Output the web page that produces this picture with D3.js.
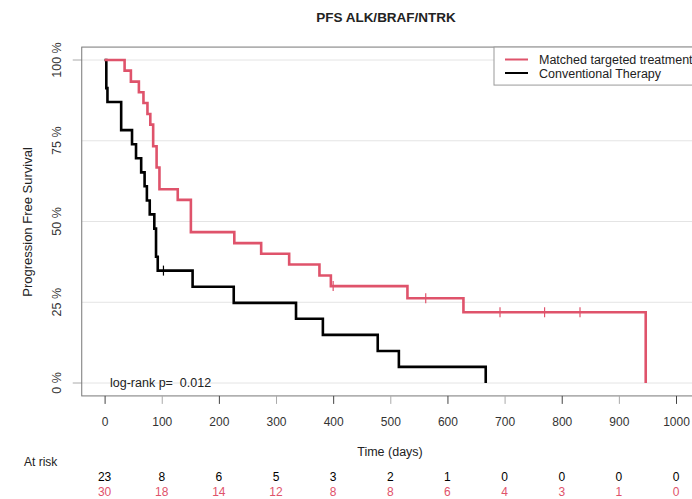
<!DOCTYPE html>
<html>
<head>
<meta charset="utf-8">
<script src="https://cdn.jsdelivr.net/npm/d3@7"></script>
<style>
  html, body { margin: 0; padding: 0; background: #fff; }
  svg { display: block; font-family: "Liberation Sans", Arial, sans-serif; }
</style>
</head>
<body>
<svg id="chart" width="692" height="499"></svg>
<script>
// ---- data ----
const title = "PFS ALK/BRAF/NTRK";
const seriesNames = ["Matched targeted treatment", "Conventional Therapy"];
const seriesColors = ["#DF536B", "#000000"];

// Matched targeted treatment (red): step times (days) and survival
const redTimes = [0, 35, 46, 60, 68, 75, 80, 85, 91, 96, 128, 151, 227, 274, 323, 376, 396, 530, 628, 947];
const redSurv  = [1, 0.967, 0.933, 0.900, 0.867, 0.833, 0.800, 0.733, 0.667, 0.600, 0.567, 0.467, 0.433, 0.400, 0.367, 0.333, 0.300, 0.2625, 0.219, 0];
const redCensorTimes = [400, 562, 692, 770, 832];
const redCensorSurv  = [0.300, 0.2625, 0.219, 0.219, 0.219];

// Conventional Therapy (black)
const blackTimes = [0, 3, 5, 29, 48, 55, 64, 70, 74, 79, 87, 90, 93, 154, 226, 335, 382, 478, 515, 667];
const blackSurv  = [1, 0.913, 0.870, 0.783, 0.739, 0.696, 0.652, 0.609, 0.565, 0.522, 0.478, 0.391, 0.348, 0.298, 0.248, 0.199, 0.149, 0.099, 0.050, 0];
const blackCensorTimes = [103];
const blackCensorSurv  = [0.348];

// axis ticks
const xTicks = [0, 100, 200, 300, 400, 500, 600, 700, 800, 900, 1000];
const yTicks = [0, 0.25, 0.5, 0.75, 1];
const yTickLabels = ["0 %", "25 %", "50 %", "75 %", "100 %"];

// numbers at risk
const riskBlack = [23, 8, 6, 5, 3, 2, 1, 0, 0, 0, 0];
const riskRed   = [30, 18, 14, 12, 8, 8, 6, 4, 3, 1, 0];

const pValueText = "log-rank p=  0.012";

// ---- drawing ----
const svg = d3.select("#chart");
const x = d3.scaleLinear().domain([0, 1000]).range([104.6, 676]);
const y = d3.scaleLinear().domain([0, 1]).range([383, 60]);
const xMin = -40, xMax = 1040, yMin = -0.04, yMax = 1.04;

const textColor = "#222";

// title
svg.append("text")
  .attr("x", 386).attr("y", 22)
  .attr("text-anchor", "middle")
  .attr("font-size", "13.5px").attr("font-weight", "bold")
  .attr("fill", textColor)
  .text(title);

// grid lines
svg.append("g").selectAll("line").data(yTicks).join("line")
  .attr("x1", x(xMin)).attr("x2", x(xMax))
  .attr("y1", d => y(d)).attr("y2", d => y(d))
  .attr("stroke", "#e4e4e4").attr("stroke-width", 1);

// y ticks at 0 and 100 (visible in reference)
svg.append("g").selectAll("line").data([0, 1]).join("line")
  .attr("x1", x(xMin) - 9).attr("x2", x(xMin))
  .attr("y1", d => y(d)).attr("y2", d => y(d))
  .attr("stroke", "#aaa").attr("stroke-width", 1);

// plot box
svg.append("rect")
  .attr("x", x(xMin)).attr("y", y(yMax))
  .attr("width", x(xMax) - x(xMin)).attr("height", y(yMin) - y(yMax))
  .attr("fill", "none").attr("stroke", "#777").attr("stroke-width", 1);

// y tick labels (rotated)
svg.append("g").selectAll("text").data(yTicks).join("text")
  .attr("transform", d => `translate(61, ${y(d)}) rotate(-90)`)
  .attr("text-anchor", "middle")
  .attr("font-size", "12.5px").attr("fill", "#333")
  .text((d, i) => yTickLabels[i]);

// y axis title
svg.append("text")
  .attr("transform", `translate(32, 222) rotate(-90)`)
  .attr("text-anchor", "middle")
  .attr("font-size", "13px").attr("fill", textColor)
  .text("Progression Free Survival");

// x axis
const xAxis = d3.axisBottom(x).tickValues(xTicks).tickSize(8).tickPadding(14).tickFormat(d3.format("d"));
const gx = svg.append("g").attr("transform", `translate(0, ${y(yMin)})`).call(xAxis);
gx.select(".domain").remove();
gx.selectAll(".tick line").attr("stroke", (d, i) => i % 2 === 0 ? "#444" : "#aaa");
gx.selectAll(".tick text").attr("font-size", "12px").attr("fill", "#333")
  .attr("font-family", "Liberation Sans, Arial, sans-serif");

// x axis title
svg.append("text")
  .attr("x", 390).attr("y", 456)
  .attr("text-anchor", "middle")
  .attr("font-size", "12.5px").attr("fill", textColor)
  .text("Time (days)");

// curves
const line = d3.line().x(d => x(d[0])).y(d => y(d[1])).curve(d3.curveStepAfter);
const curves = [
  { t: blackTimes, s: blackSurv, ct: blackCensorTimes, cs: blackCensorSurv, color: seriesColors[1] },
  { t: redTimes, s: redSurv, ct: redCensorTimes, cs: redCensorSurv, color: seriesColors[0] }
];
curves.forEach(c => {
  const pts = c.t.map((t, i) => [t, c.s[i]]);
  svg.append("path")
    .attr("d", line(pts))
    .attr("fill", "none").attr("stroke", c.color)
    .attr("stroke-width", 2.6).attr("stroke-linejoin", "miter");
  svg.append("g").selectAll("line").data(c.ct).join("line")
    .attr("x1", d => x(d)).attr("x2", d => x(d))
    .attr("y1", (d, i) => y(c.cs[i]) - 5).attr("y2", (d, i) => y(c.cs[i]) + 5)
    .attr("stroke", c.color).attr("stroke-width", 1.2);
});

// p-value
svg.append("text")
  .attr("x", 110).attr("y", 387)
  .attr("font-size", "12.5px").attr("fill", textColor)
  .style("white-space", "pre")
  .text(pValueText);

// legend
const lg = svg.append("g");
lg.append("rect")
  .attr("x", 494).attr("y", y(yMax)).attr("width", 240).attr("height", 38)
  .attr("fill", "#fff").attr("stroke", "#999").attr("stroke-width", 1);
seriesNames.forEach((name, i) => {
  const ly = 59.5 + i * 13.5;
  lg.append("line")
    .attr("x1", 505).attr("x2", 528).attr("y1", ly).attr("y2", ly)
    .attr("stroke", seriesColors[i]).attr("stroke-width", 2);
  lg.append("text")
    .attr("x", 539).attr("y", ly + 4.5)
    .attr("font-size", "12.5px").attr("fill", textColor)
    .text(name);
});

// at risk table
svg.append("text")
  .attr("x", 24).attr("y", 466)
  .attr("font-size", "12px").attr("fill", textColor)
  .text("At risk");
svg.append("g").selectAll("text").data(riskBlack).join("text")
  .attr("x", (d, i) => x(xTicks[i])).attr("y", 481)
  .attr("text-anchor", "middle")
  .attr("font-size", "12px").attr("fill", "#000")
  .text(d => d);
svg.append("g").selectAll("text").data(riskRed).join("text")
  .attr("x", (d, i) => x(xTicks[i])).attr("y", 496)
  .attr("text-anchor", "middle")
  .attr("font-size", "12px").attr("fill", seriesColors[0])
  .text(d => d);
</script>
</body>
</html>
